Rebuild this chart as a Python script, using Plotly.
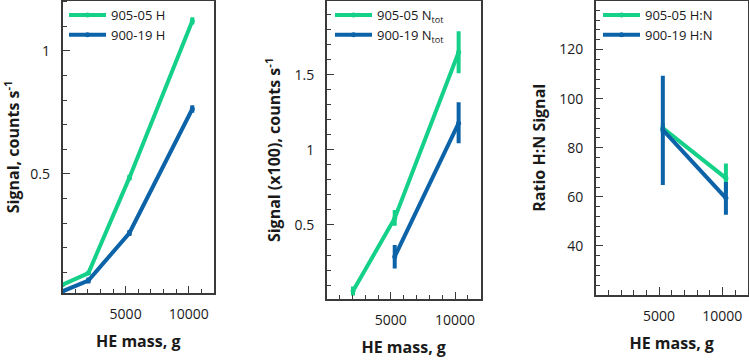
import plotly.graph_objects as go

# ---------------- data ----------------
mass_h = [0, 2050, 5300, 10280]
h_905 = [0.05, 0.097, 0.485, 1.122]
h_905_err = [0.006, 0.008, 0.012, 0.015]
h_900 = [0.023, 0.067, 0.26, 0.764]
h_900_err = [0.005, 0.012, 0.012, 0.015]

mass_n905 = [2050, 5300, 10280]
n_905 = [0.06, 0.545, 1.65]
n_905_err_plus = [0.03, 0.055, 0.14]
n_905_err_minus = [0.03, 0.05, 0.14]
mass_n900 = [5300, 10280]
n_900 = [0.289, 1.178]
n_900_err_plus = [0.078, 0.14]
n_900_err_minus = [0.079, 0.133]

mass_r = [5300, 10280]
r_905 = [88.0, 67.6]
r_905_err_plus = [2.0, 6.0]
r_905_err_minus = [2.0, 6.0]
r_900 = [87.3, 59.5]
r_900_err_plus = [22.0, 6.5]
r_900_err_minus = [22.5, 6.8]

x_tickvals = [5000, 10000]
y1_tickvals = [0.5, 1]
y2_tickvals = [0.5, 1, 1.5]
y3_tickvals = [40, 60, 80, 100, 120]

GREEN = "#14d088"
BLUE = "#0d63a8"
FONT = "Open Sans"
TXT = "#1a1a1a"
LINE = "#3a3a3a"

fig = go.Figure()


def add(x, y, ep, em, color, name, xa, ya, leg):
    fig.add_trace(go.Scatter(
        x=x, y=y, name=name, mode="lines+markers",
        line=dict(color=color, width=4),
        marker=dict(color=color, size=5),
        error_y=dict(type="data", array=ep, arrayminus=em, symmetric=False,
                     color=color, thickness=4, width=0),
        xaxis=xa, yaxis=ya, legend=leg,
    ))


add(mass_h, h_905, h_905_err, h_905_err, GREEN, "905-05 H", "x", "y", "legend")
add(mass_h, h_900, h_900_err, h_900_err, BLUE, "900-19 H", "x", "y", "legend")
add(mass_n905, n_905, n_905_err_plus, n_905_err_minus, GREEN, "905-05 N<sub>tot</sub>", "x2", "y2", "legend2")
add(mass_n900, n_900, n_900_err_plus, n_900_err_minus, BLUE, "900-19 N<sub>tot</sub>", "x2", "y2", "legend2")
add(mass_r, r_905, r_905_err_plus, r_905_err_minus, GREEN, "905-05 H:N", "x3", "y3", "legend3")
add(mass_r, r_900, r_900_err_plus, r_900_err_minus, BLUE, "900-19 H:N", "x3", "y3", "legend3")

W, H = 749, 362
top = 1 - 0.5 / H


def xax(dom, anchor):
    return dict(domain=dom, anchor=anchor, range=[0, 12000],
                tickvals=x_tickvals, ticktext=[str(v) for v in x_tickvals],
                ticks="inside", ticklen=8, tickwidth=1.2, tickcolor=LINE,
                minor=dict(dtick=1000, tick0=0, ticks="inside", ticklen=5, tickwidth=1.2, tickcolor=LINE),
                showline=True, linecolor=LINE, linewidth=1.5, mirror=True,
                showgrid=False, zeroline=False, ticklabelstandoff=7,
                tickfont=dict(family=FONT, size=14, color=TXT),
                title=dict(text="HE mass, g", standoff=14,
                           font=dict(family=FONT, size=16, color=TXT, weight="bold")))


def yax(dom, anchor, rng, tv, minor_dt, title, standoff):
    return dict(domain=dom, anchor=anchor, range=rng, tickvals=tv,
                ticks="inside", ticklen=8, tickwidth=1.2, tickcolor=LINE,
                minor=dict(dtick=minor_dt, tick0=0, ticks="inside", ticklen=5, tickwidth=1.2, tickcolor=LINE),
                showline=True, linecolor=LINE, linewidth=1.5, mirror=True,
                showgrid=False, zeroline=False, ticklabelstandoff=8,
                tickfont=dict(family=FONT, size=14, color=TXT),
                title=dict(text=title, standoff=standoff,
                           font=dict(family=FONT, size=16, color=TXT, weight="bold")))


def leg(x):
    return dict(x=x, y=1, xanchor="left", yanchor="top", bgcolor="rgba(0,0,0,0)",
                itemwidth=37, font=dict(family=FONT, size=13, color=TXT),
                tracegroupgap=0)


fig.update_layout(
    width=W, height=H, margin=dict(l=0, r=0, t=0, b=0),
    paper_bgcolor="white", plot_bgcolor="white",
    showlegend=True,
    xaxis=xax([62.5 / W, 214 / W], "y"),
    yaxis=yax([1 - 293.3 / H, top], "x", [0.015, 1.205], y1_tickvals, 0.1,
              "Signal, counts s<sup>-1</sup>", 13),
    xaxis2=xax([326.7 / W, 480.7 / W], "y2"),
    yaxis2=yax([1 - 299.3 / H, top], "x2", [0.005, 1.995], y2_tickvals, 0.1,
               "Signal (x100), counts s<sup>-1</sup>", 10),
    xaxis3=xax([595.7 / W, 747.7 / W], "y3"),
    yaxis3=yax([1 - 295 / H, top], "x3", [20, 140], y3_tickvals, 4,
               "Ratio H:N Signal", 10),
    legend=leg(64 / W),
    legend2=leg(330 / W),
    legend3=leg(598 / W),
)

fig.write_html(
    "out.html",
    config={"displayModeBar": False},
    post_script="document.body.style.margin='0';document.body.style.overflow='hidden';",
)
